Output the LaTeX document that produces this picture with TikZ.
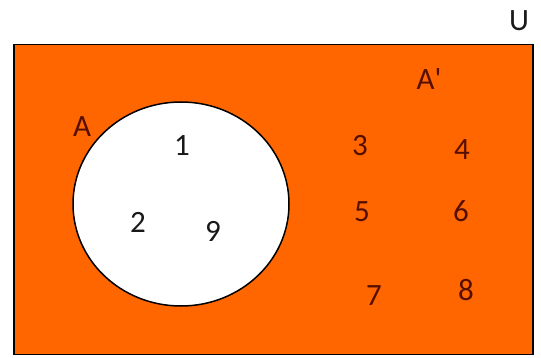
\documentclass[tikz,border=0pt]{standalone}
\usepackage{fontspec}
\usetikzlibrary{shapes.geometric}
\setmainfont{Carlito}
\definecolor{vorange}{RGB}{255,102,0}
\definecolor{vdark}{RGB}{85,15,0}
\definecolor{vink}{RGB}{25,25,25}
\begin{document}
\begin{tikzpicture}[x=1pt,y=-1pt,
  lab/.style={font=\fontsize{31}{31}\selectfont,inner sep=0pt,anchor=center},
  outlab/.style={lab,text=vdark},
  inlab/.style={lab,text=vink}]
\useasboundingbox (0,0) rectangle (541,358);
\node[draw=black,line width=1.8pt,fill=vorange,minimum width=519pt,minimum height=310pt,inner sep=0pt] (U) at (273.5,199.5) {};
\node[ellipse,draw=black,line width=1.5pt,fill=white,minimum width=216pt,minimum height=204pt,inner sep=0pt] (A) at (181,204) {};
\node[inlab] (ulab) at (519,21) {U};
\node[outlab] (alab) at (82,127) {A};
\node[outlab] (aplab) at (429,79) {A\textquotesingle};
\node[inlab] (n1) at (182,146) {1};
\node[inlab] (n2) at (138,222) {2};
\node[inlab] (n9) at (213,231) {9};
\node[outlab] (n3) at (360,146) {3};
\node[outlab] (n4) at (462,150) {4};
\node[outlab] (n5) at (362,212) {5};
\node[outlab] (n6) at (461,211) {6};
\node[outlab] (n7) at (374,296) {7};
\node[outlab] (n8) at (466,290) {8};
\end{tikzpicture}
\end{document}
